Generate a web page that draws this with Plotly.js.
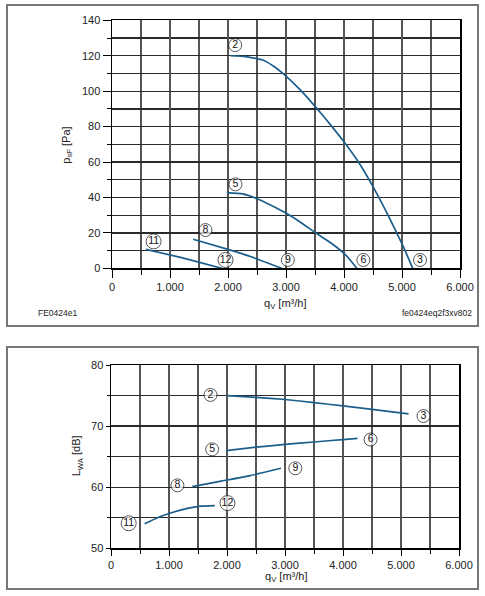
<!DOCTYPE html>
<html>
<head>
<meta charset="utf-8">
<script src="https://cdn.plot.ly/plotly-3.0.1.min.js"></script>
<style>
html,body{margin:0;padding:0;background:#fff;}
#chart{width:485px;height:596px;}
</style>
</head>
<body>
<div id="chart"></div>
<script>
// ---- Top chart: static pressure p_sF [Pa] vs q_V [m3/h] ----
const qv_2_3 = [2040, 2300, 2600, 2800, 2956, 3250, 3531, 3775, 4019, 4263, 4507, 4765, 5023, 5185];
const psf_2_3 = [120, 119.5, 117.6, 113.8, 109.7, 100.6, 90.3, 80.7, 70.6, 59.3, 45.7, 29.6, 12.2, 0];
const qv_5_6 = [1980, 2250, 2500, 2750, 3000, 3250, 3500, 3750, 3900, 4000, 4100, 4220];
const psf_5_6 = [42.7, 42, 39.3, 35.5, 31.2, 26, 20.3, 14.8, 11.2, 8.4, 5.0, 0];
const qv_8_9 = [1400, 2000, 2400, 2930];
const psf_8_9 = [16.4, 10.7, 6.5, 0];
const qv_11_12 = [585, 1200, 1895];
const psf_11_12 = [10.7, 6.0, 0];

const topLabelText = ['2', '5', '8', '11', '12', '9', '6', '3'];
const topLabelQv = [2124, 2129, 1612, 717, 1957, 3032, 4334, 5311];
const topLabelPsf = [126, 47.4, 21.6, 15.2, 4.7, 4.7, 4.7, 4.7];

// ---- Bottom chart: sound power L_WA [dB] vs q_V [m3/h] ----
const qv_L23 = [2000, 2500, 3000, 3500, 4000, 4500, 5130];
const lwa_L23 = [75, 74.7, 74.35, 73.85, 73.3, 72.75, 72.0];
const qv_L56 = [1990, 2500, 3000, 3500, 4000, 4250];
const lwa_L56 = [66, 66.55, 67.0, 67.4, 67.8, 68.0];
const qv_L89 = [1400, 1900, 2400, 2930];
const lwa_L89 = [60.1, 61.0, 61.9, 63.1];
const qv_L1112 = [580, 800, 1000, 1300, 1550, 1790];
const lwa_L1112 = [54, 55, 55.7, 56.5, 56.9, 57.0];

const botLabelText = ['2', '3', '5', '6', '8', '9', '11', '12'];
const botLabelQv = [1716, 5388, 1744, 4475, 1145, 3178, 305, 2008];
const botLabelLwa = [75.1, 71.65, 66.2, 67.8, 60.3, 63.1, 54.1, 57.4];

const xTickVals = [0, 1000, 2000, 3000, 4000, 5000, 6000];
const xTickText = ['0', '1.000', '2.000', '3.000', '4.000', '5.000', '6.000'];

// ---- styling ----
const W = 485, H = 596;
const px = x => x / W;
const py = y => 1 - y / H;
const curveColor = '#1c5f8b';
const font = 'Liberation Sans, Arial, sans-serif';

function curve(x, y, xa, ya) {
  return {x: x, y: y, xaxis: xa, yaxis: ya, type: 'scatter', mode: 'lines',
    line: {color: curveColor, width: 1.7, shape: 'spline', smoothing: 0.4},
    hoverinfo: 'skip', showlegend: false};
}
function labels(x, y, t, xa, ya) {
  return {x: x, y: y, text: t, xaxis: xa, yaxis: ya, type: 'scatter', mode: 'markers+text',
    marker: {symbol: 'circle', size: t.map(s => s.length > 1 ? 15 : 13), color: '#fff',
      line: {color: '#111', width: 1}},
    textposition: 'middle center', textfont: {family: font, size: 10.5, color: '#111'},
    hoverinfo: 'skip', showlegend: false, cliponaxis: false};
}

const data = [
  curve(qv_2_3, psf_2_3, 'x', 'y'),
  curve(qv_5_6, psf_5_6, 'x', 'y'),
  curve(qv_8_9, psf_8_9, 'x', 'y'),
  curve(qv_11_12, psf_11_12, 'x', 'y'),
  labels(topLabelQv, topLabelPsf, topLabelText, 'x', 'y'),
  curve(qv_L23, lwa_L23, 'x2', 'y2'),
  curve(qv_L56, lwa_L56, 'x2', 'y2'),
  curve(qv_L89, lwa_L89, 'x2', 'y2'),
  curve(qv_L1112, lwa_L1112, 'x2', 'y2'),
  labels(botLabelQv, botLabelLwa, botLabelText, 'x2', 'y2')
];

function xAxis(domain, anchor, majorLen, minorLen) {
  return {domain: domain, anchor: anchor, range: [0, 6000], tickmode: 'array',
    tickvals: xTickVals, ticktext: xTickText, ticks: 'outside', ticklen: majorLen,
    tickwidth: 1, tickcolor: '#000', showline: true, linecolor: '#000', linewidth: 1.5,
    mirror: true, showgrid: true, gridcolor: '#555', gridwidth: 1.5, zeroline: false,
    tickfont: {family: font, size: 11, color: '#222'},
    minor: {tickmode: 'linear', tick0: 0, dtick: 500, ticks: 'outside', ticklen: minorLen,
      tickcolor: '#000', showgrid: true, gridcolor: '#555', gridwidth: 1.5},
    fixedrange: true};
}
function yAxis(domain, anchor, range, dtick, minorDtick, majorLen, minorLen) {
  return {domain: domain, anchor: anchor, range: range, tickmode: 'linear', tick0: range[0],
    dtick: dtick, ticks: 'outside', ticklen: majorLen, tickwidth: 1, tickcolor: '#000',
    showline: true, linecolor: '#000', linewidth: 1.5, mirror: true, showgrid: true,
    gridcolor: '#2a2a2a', gridwidth: 1.3, zeroline: false,
    tickfont: {family: font, size: 11, color: '#222'},
    minor: {tickmode: 'linear', tick0: range[0], dtick: minorDtick, ticks: 'outside',
      ticklen: minorLen, tickcolor: '#000', showgrid: true, gridcolor: '#2a2a2a', gridwidth: 1.3},
    fixedrange: true};
}

const layout = {
  width: W, height: H,
  margin: {l: 0, r: 0, t: 0, b: 0},
  paper_bgcolor: '#fff', plot_bgcolor: '#fff',
  showlegend: false,
  xaxis: xAxis([px(112), px(460)], 'y', 8, 5),
  yaxis: yAxis([py(268.3), py(20.3)], 'x', [0, 140], 20, 10, 8, 4),
  xaxis2: xAxis([px(111), px(459)], 'y2', 6, 4),
  yaxis2: yAxis([py(548.3), py(365)], 'x2', [50, 80], 10, 5, 4, 3),
  shapes: [
    {type: 'rect', xref: 'paper', yref: 'paper', x0: px(7), x1: px(478), y0: py(326), y1: py(5),
      line: {color: '#777', width: 2}},
    {type: 'rect', xref: 'paper', yref: 'paper', x0: px(7), x1: px(478), y0: py(589), y1: py(347),
      line: {color: '#777', width: 2}}
  ],
  annotations: [
    {text: 'p<sub>sF</sub> [Pa]', xref: 'paper', yref: 'paper', x: px(66.7), y: py(145),
      textangle: -90, showarrow: false, font: {family: font, size: 11, color: '#222'},
      xanchor: 'center', yanchor: 'middle'},
    {text: 'q<sub>V</sub> [m³/h]', xref: 'paper', yref: 'paper', x: px(285), y: py(304),
      showarrow: false, font: {family: font, size: 11, color: '#222'},
      xanchor: 'center', yanchor: 'middle'},
    {text: 'FE0424e1', xref: 'paper', yref: 'paper', x: px(36), y: py(312.5),
      showarrow: false, font: {family: font, size: 8.5, color: '#222'},
      xanchor: 'left', yanchor: 'middle'},
    {text: 'fe0424eq2f3xv802', xref: 'paper', yref: 'paper', x: px(473.5), y: py(312.5),
      showarrow: false, font: {family: font, size: 8.5, color: '#222'},
      xanchor: 'right', yanchor: 'middle'},
    {text: 'L<sub>WA</sub> [dB]', xref: 'paper', yref: 'paper', x: px(77.3), y: py(456),
      textangle: -90, showarrow: false, font: {family: font, size: 11, color: '#222'},
      xanchor: 'center', yanchor: 'middle'},
    {text: 'q<sub>V</sub> [m³/h]', xref: 'paper', yref: 'paper', x: px(285.5), y: py(577),
      showarrow: false, font: {family: font, size: 11, color: '#222'},
      xanchor: 'center', yanchor: 'middle'}
  ]
};

Plotly.newPlot('chart', data, layout, {staticPlot: true, displayModeBar: false});
</script>
</body>
</html>
